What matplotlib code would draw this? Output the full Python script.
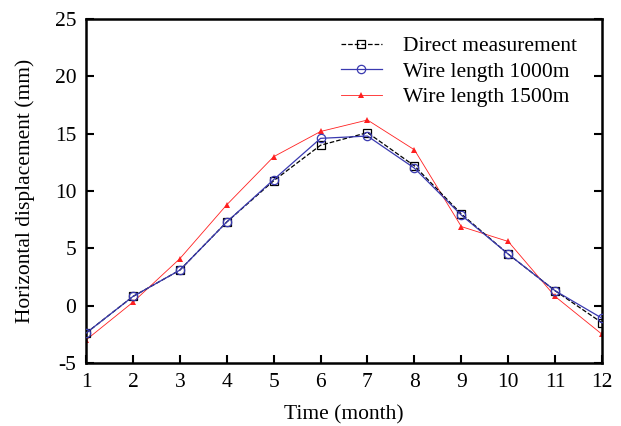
import matplotlib.pyplot as plt

# Monthly horizontal displacement (mm)
months = list(range(1, 13))
direct = [-2.4, 0.8, 3.1, 7.3, 10.9, 14.0, 15.1, 12.2, 8.0, 4.5, 1.3, -1.5]
wire_1000 = [-2.4, 0.8, 3.1, 7.3, 11.0, 14.6, 14.8, 12.0, 7.9, 4.5, 1.3, -1.1]
wire_1500 = [-3.0, 0.3, 4.1, 8.8, 13.0, 15.2, 16.2, 13.6, 6.9, 5.6, 0.8, -2.5]

plt.rcParams['font.family'] = 'Liberation Serif'
plt.rcParams['axes.unicode_minus'] = False

fig = plt.figure(figsize=(6.21, 4.26), dpi=100)
ax = fig.add_axes([0.1385, 0.148, 0.831, 0.807])

ax.plot(months, direct, color='black', linestyle='--', linewidth=0.9,
        marker='s', markersize=6, markerfacecolor='none', markeredgewidth=0.9,
        label='Direct measurement', zorder=3)
ax.plot(months, wire_1000, color='#3a3ab0', linestyle='-', linewidth=0.9,
        marker='o', markersize=6, markerfacecolor='none', markeredgewidth=0.9,
        label='Wire length 1000m', zorder=4)
ax.plot(months, wire_1500, color='#ff2020', linestyle='-', linewidth=0.6,
        marker='^', markersize=5, markerfacecolor='#ff2020', markeredgewidth=0,
        label='Wire length 1500m', zorder=2)

ax.set_xlim(1, 12)
ax.set_ylim(-5, 25)
ax.set_xticks(months)
ax.set_yticks(range(-5, 26, 5))
ax.tick_params(direction='in', length=6, width=1.5, labelsize=15.5, right=True, top=False, pad=7)

for s in ax.spines.values():
    s.set_linewidth(1.8)

ax.set_xlabel('Time (month)', fontsize=15.5, labelpad=10)
ax.set_ylabel('Horizontal displacement (mm)', fontsize=15.5, labelpad=14)

ax.legend(loc='upper right', frameon=False, fontsize=15.5, handlelength=1.9,
          borderaxespad=0.4, borderpad=0.4, labelspacing=0.25, handletextpad=1.0,
          bbox_to_anchor=(0.985, 1.0))

fig.savefig('out.png', dpi=100)
